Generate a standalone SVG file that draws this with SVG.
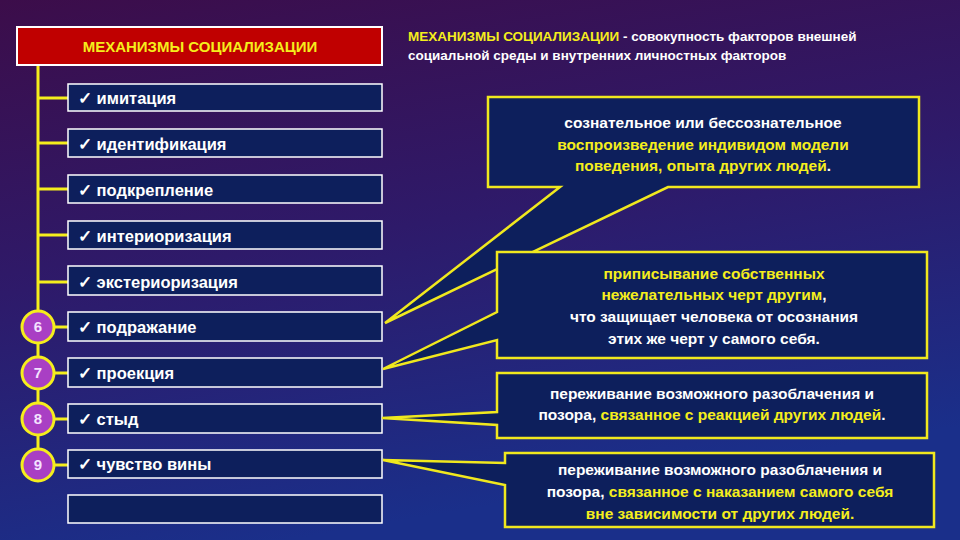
<svg xmlns="http://www.w3.org/2000/svg" width="960" height="540" viewBox="0 0 960 540">
<defs>
<linearGradient id="bg" x1="0" y1="0" x2="0.3" y2="1">
<stop offset="0" stop-color="#3c0d4a"/><stop offset="0.5" stop-color="#2e1a6a"/><stop offset="1" stop-color="#1a2f8a"/>
</linearGradient>
</defs>
<style>
text{font-family:"Liberation Sans",Arial,sans-serif;fill:#fff;font-weight:bold}
.item{fill:#0d1f5c;stroke:#fff;stroke-width:1.5}
.it{font-size:16.5px}
.call{fill:#0d1f5c;stroke:#f0e81e;stroke-width:2.5}
.ct{font-size:15.5px;text-anchor:middle}
.y{fill:#f5ee1c}
.yl{stroke:#f5ee1c;stroke-width:3;fill:none}
.num{fill:#a93fc4;stroke:#f5ee1c;stroke-width:3}
.nt{font-size:15px;text-anchor:middle;fill:#f4e2ff}
</style>
<rect width="960" height="540" fill="url(#bg)"/>
<g id="connectors">
<path class="yl" d="M38 65V465M38 98H68M38 143H68M38 189H68M38 235H68M38 282H68M55 327H68M55 373H68M55 419H68M55 465H68"/>
</g>
<g id="header"><rect x="17" y="27" width="365" height="38" fill="#c00000" stroke="#fff" stroke-width="2"/><text x="200" y="52" text-anchor="middle" font-size="15" class="y">МЕХАНИЗМЫ СОЦИАЛИЗАЦИИ</text></g>
<g id="i1"><rect class="item" x="68" y="84" width="314" height="27"/><text class="it" x="78" y="104">✓ имитация</text></g>
<g id="i2"><rect class="item" x="68" y="129" width="314" height="28"/><text class="it" x="78" y="150">✓ идентификация</text></g>
<g id="i3"><rect class="item" x="68" y="175" width="314" height="28"/><text class="it" x="78" y="196">✓ подкрепление</text></g>
<g id="i4"><rect class="item" x="68" y="221" width="314" height="28"/><text class="it" x="78" y="242">✓ интериоризация</text></g>
<g id="i5"><rect class="item" x="68" y="266" width="314" height="29"/><text class="it" x="78" y="288">✓ экстериоризация</text></g>
<g id="i6"><rect class="item" x="68" y="312" width="314" height="29"/><text class="it" x="78" y="333">✓ подражание</text></g>
<g id="i7"><rect class="item" x="68" y="358" width="314" height="29"/><text class="it" x="78" y="379">✓ проекция</text></g>
<g id="i8"><rect class="item" x="68" y="404" width="314" height="29"/><text class="it" x="78" y="425">✓ стыд</text></g>
<g id="i9"><rect class="item" x="68" y="450" width="314" height="28"/><text class="it" x="78" y="470">✓ чувство вины</text></g>
<g id="i10"><rect class="item" x="68" y="495" width="314" height="28"/></g>
<g id="n6"><circle class="num" cx="38" cy="327" r="16"/><text class="nt" x="38" y="332">6</text></g>
<g id="n7"><circle class="num" cx="38" cy="373" r="16"/><text class="nt" x="38" y="378">7</text></g>
<g id="n8"><circle class="num" cx="38" cy="419" r="16"/><text class="nt" x="38" y="424">8</text></g>
<g id="n9"><circle class="num" cx="38" cy="465" r="16"/><text class="nt" x="38" y="470">9</text></g>
<g id="title"><text x="408" y="41" font-size="13.5"><tspan class="y">МЕХАНИЗМЫ СОЦИАЛИЗАЦИИ</tspan> - совокупность факторов внешней</text><text x="408" y="60" font-size="13.5">социальной среды и внутренних личностных факторов</text></g>
<g id="c1"><path class="call" d="M488 97H919V187H668L385 323L560 187H488Z"/><text class="ct" x="703" y="128">сознательное или бессознательное</text><text class="ct y" x="703" y="150">воспроизведение индивидом модели</text><text class="ct y" x="703" y="171">поведения, опыта других людей<tspan fill="#fff">.</tspan></text></g>
<g id="c2"><path class="call" d="M497 252H927V358H497V340L383 369L497 312Z"/><text class="ct y" x="714" y="279">приписывание собственных</text><text class="ct y" x="714" y="300">нежелательных черт другим<tspan fill="#fff">,</tspan></text><text class="ct" x="714" y="322">что защищает человека от осознания</text><text class="ct" x="714" y="344">этих же черт у самого себя.</text></g>
<g id="c3"><path class="call" d="M497 373H927V438H497V425L382 418L497 412Z"/><text class="ct" x="712" y="399">переживание возможного разоблачения и</text><text class="ct" x="712" y="420">позора, <tspan class="y">связанное с реакцией других людей</tspan>.</text></g>
<g id="c4"><path class="call" d="M505 453H934V527H505V485L383 460L505 463Z"/><text class="ct" x="720" y="475">переживание возможного разоблачения и</text><text class="ct" x="720" y="497">позора, <tspan class="y">связанное с наказанием самого себя</tspan></text><text class="ct y" x="720" y="519">вне зависимости от других людей.</text></g>
</svg>
